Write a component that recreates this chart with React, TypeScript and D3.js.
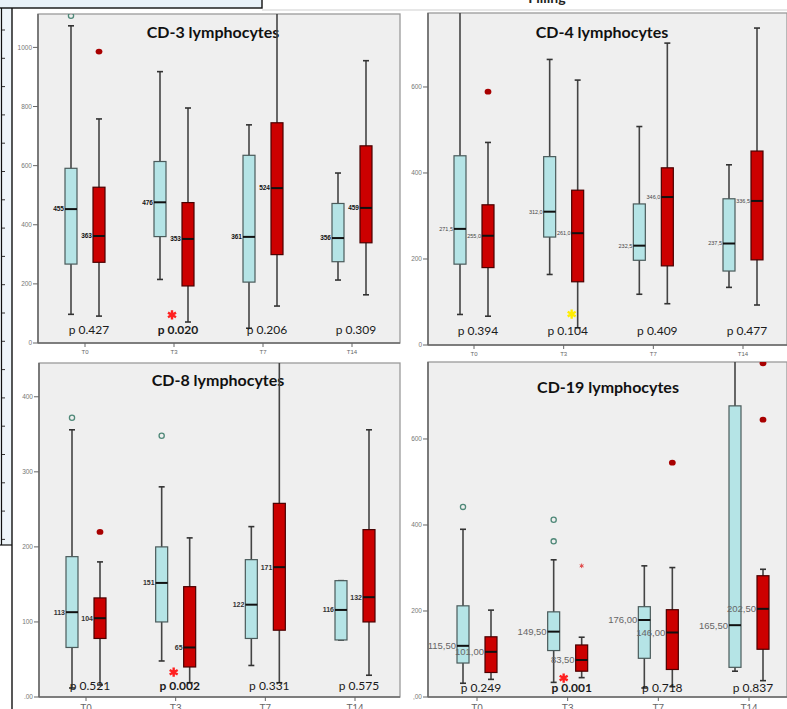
import React from "react";
import * as d3 from "d3";

const timepoints = ["T0", "T3", "T7", "T14"];

// box summaries: [whisker low, q1, median, q3, whisker high], one per time point
const cd3Cyan = [[97, 267, 453, 591, 1073], [215, 360, 476, 614, 918], [50, 206, 359, 635, 738], [213, 275, 355, 472, 575]];
const cd3Red = [[91, 273, 362, 527, 758], [71, 193, 352, 475, 795], [125, 299, 524, 745, 1200], [163, 339, 457, 667, 955]];
const cd3CyanOut = [[0, 1107]];
const cd3RedOut = [[0, 986]];
const cd3CyanLabels = ["455", "476", "361", "356"];
const cd3RedLabels = ["363", "353", "524", "459"];
const cd3P = ["p 0.427", "p 0.020", "p 0.206", "p 0.309"];
const cd3Ticks = [0, 200, 400, 600, 800, 1000];
const cd3TickLabels = ["0", "200", "400", "600", "800", "1000"];

const cd4Cyan = [[71, 188, 270, 440, 800], [164, 251, 310, 438, 664], [118, 197, 231, 328, 508], [134, 172, 236, 340, 419]];
const cd4Red = [[67, 180, 254, 326, 471], [40, 147, 260, 360, 616], [96, 184, 344, 412, 702], [93, 198, 335, 451, 737]];
const cd4CyanOut: number[][] = [];
const cd4RedOut = [[0, 589]];
const cd4CyanLabels = ["271,5", "312,0", "232,5", "237,5"];
const cd4RedLabels = ["255,0", "261,0", "346,0", "336,5"];
const cd4P = ["p 0.394", "p 0.104", "p 0.409", "p 0.477"];
const cd4Ticks = [0, 200, 400, 600];
const cd4TickLabels = ["0", "200", "400", "600"];

const cd8Cyan = [[12, 66, 113, 187, 356], [48, 100, 152, 200, 280], [42, 78, 123, 183, 227], [76, 76, 116, 155, 155]];
const cd8Red = [[16, 78, 105, 132, 180], [19, 40, 66, 147, 212], [19, 89, 173, 258, 470], [29, 100, 133, 223, 356]];
const cd8CyanOut = [[0, 372], [1, 348]];
const cd8RedOut = [[0, 220]];
const cd8CyanLabels = ["113", "151", "122", "116"];
const cd8RedLabels = ["104", "65", "171", "132"];
const cd8P = ["p 0.521", "p 0.002", "p 0.331", "p 0.575"];
const cd8Ticks = [0, 100, 200, 300, 400];
const cd8TickLabels = [".00", "100", "200", "300", "400"];

const cd19Cyan = [[32, 79, 119, 212, 390], [34, 108, 152, 198, 319], [21, 90, 179, 210, 305], [60, 69, 167, 677, 820]];
const cd19Red = [[41, 57, 105, 140, 202], [45, 60, 86, 121, 139], [24, 64, 150, 203, 301], [38, 111, 205, 282, 297]];
const cd19CyanOut = [[0, 442], [1, 412], [1, 362]];
const cd19RedOut = [[2, 545], [3, 645], [3, 776]];
const cd19RedStars = [[1, 305]];
const cd19CyanLabels = ["115,50", "149,50", "176,00", "165,50"];
const cd19RedLabels = ["101,00", "83,50", "146,00", "202,50"];
const cd19P = ["p 0.249", "p 0.001", "p 0.718", "p 0.837"];
const cd19Ticks = [0, 200, 400, 600];
const cd19TickLabels = [",00", "200", "400", "600"];

const W = 787;
const H = 709;
const CYAN = "#b5e4e6";
const RED = "#cc0000";

const panels = [
  {
    id: "cd3", title: "CD-3 lymphocytes", x0: 38, x1: 400, y0: 14, y1: 343, yMax: 1113, cx: [85, 352],
    titleX: 213, titleY: 38, cyan: cd3Cyan, red: cd3Red, cyanOut: cd3CyanOut, redOut: cd3RedOut, redStars: [],
    cyanLabels: cd3CyanLabels, redLabels: cd3RedLabels, p: cd3P, boldP: 1, pY: 334,
    ticks: cd3Ticks, tickLabels: cd3TickLabels, star: { v: 95, dx: -2, color: "#ff2020" },
    label: { size: 6.5, weight: 700, color: "#111" }, xLabelY: 354, xLabelSize: 6,
  },
  {
    id: "cd4", title: "CD-4 lymphocytes", x0: 428, x1: 787, y0: 13, y1: 345, yMax: 772, cx: [474, 743],
    titleX: 602, titleY: 38, cyan: cd4Cyan, red: cd4Red, cyanOut: cd4CyanOut, redOut: cd4RedOut, redStars: [],
    cyanLabels: cd4CyanLabels, redLabels: cd4RedLabels, p: cd4P, boldP: -1, pY: 335,
    ticks: cd4Ticks, tickLabels: cd4TickLabels, star: { v: 72, dx: 8, color: "#ffee00" },
    label: { size: 5.5, weight: 400, color: "#444" }, xLabelY: 356, xLabelSize: 6,
  },
  {
    id: "cd8", title: "CD-8 lymphocytes", x0: 39, x1: 400, y0: 363, y1: 697, yMax: 445, cx: [86, 355],
    titleX: 218, titleY: 386, cyan: cd8Cyan, red: cd8Red, cyanOut: cd8CyanOut, redOut: cd8RedOut, redStars: [],
    cyanLabels: cd8CyanLabels, redLabels: cd8RedLabels, p: cd8P, boldP: 1, pY: 690,
    ticks: cd8Ticks, tickLabels: cd8TickLabels, star: { v: 33, dx: -2, color: "#ff2020" },
    label: { size: 7, weight: 700, color: "#333" }, xLabelY: 712, xLabelSize: 10,
  },
  {
    id: "cd19", title: "CD-19 lymphocytes", x0: 428, x1: 787, y0: 362, y1: 697, yMax: 779, cx: [477, 749],
    titleX: 608, titleY: 393, cyan: cd19Cyan, red: cd19Red, cyanOut: cd19CyanOut, redOut: cd19RedOut, redStars: cd19RedStars,
    cyanLabels: cd19CyanLabels, redLabels: cd19RedLabels, p: cd19P, boldP: 1, pY: 692,
    ticks: cd19Ticks, tickLabels: cd19TickLabels, star: { v: 44, dx: -4, color: "#ff2020" },
    label: { size: 9.5, weight: 400, color: "#666" }, xLabelY: 712, xLabelSize: 10,
  },
];

const asterisk = d3.symbol().type(d3.symbolAsterisk);

function BoxMark({ cx, b, y, fill, stroke, label, lab }: any) {
  const [lo, q1, med, q3, hi] = b;
  const bw = 12;
  return (
    <g>
      <line x1={cx} x2={cx} y1={y(lo)} y2={y(hi)} stroke="#444" strokeWidth={1.6} />
      <line x1={cx - 3} x2={cx + 3} y1={y(lo)} y2={y(lo)} stroke="#333" strokeWidth={1.6} />
      <line x1={cx - 3} x2={cx + 3} y1={y(hi)} y2={y(hi)} stroke="#333" strokeWidth={1.6} />
      <rect x={cx - bw / 2} y={y(q3)} width={bw} height={y(q1) - y(q3)} fill={fill} stroke={stroke} strokeWidth={1.2} />
      <line x1={cx - bw / 2} x2={cx + bw / 2} y1={y(med)} y2={y(med)} stroke="#111" strokeWidth={2} />
      <text x={cx - bw / 2 - 1} y={y(med) + lab.size * 0.35} textAnchor="end" fontSize={lab.size}
        fontWeight={lab.weight} fill={lab.color} fontFamily="Liberation Sans, Arial, sans-serif">{label}</text>
    </g>
  );
}

function Panel({ p }: any) {
  const y = d3.scaleLinear().domain([0, p.yMax]).range([p.y1, p.y0]);
  const x = d3.scalePoint<string>().domain(timepoints).range(p.cx);
  const off = 14;
  return (
    <g>
      <defs>
        <clipPath id={`clip-${p.id}`}>
          <rect x={p.x0} y={p.y0} width={p.x1 - p.x0} height={p.y1 - p.y0} />
        </clipPath>
      </defs>
      <rect x={p.x0} y={p.y0} width={p.x1 - p.x0} height={p.y1 - p.y0} fill="#efefef" stroke="#9a9a9a" strokeWidth={1.3} />
      <text x={p.titleX} y={p.titleY} textAnchor="middle" fontSize={16} fontWeight={700}
        fontFamily="Lato, 'Open Sans', sans-serif" fill="#111">{p.title}</text>
      <g clipPath={`url(#clip-${p.id})`}>
        {timepoints.map((t, i) => (
          <g key={t}>
            <BoxMark cx={x(t)! - off} b={p.cyan[i]} y={y} fill={CYAN} stroke="#4a5a5a" label={p.cyanLabels[i]} lab={p.label} />
            <BoxMark cx={x(t)! + off} b={p.red[i]} y={y} fill={RED} stroke="#4a0000" label={p.redLabels[i]} lab={p.label} />
          </g>
        ))}
        {p.cyanOut.map(([i, v]: number[], k: number) => (
          <circle key={`co${k}`} cx={x(timepoints[i])! - off} cy={y(v)} r={2.6} fill="none" stroke="#4f8878" strokeWidth={1.3} />
        ))}
        {p.redOut.map(([i, v]: number[], k: number) => (
          <ellipse key={`ro${k}`} cx={x(timepoints[i])! + off} cy={y(v)} rx={3.4} ry={2.9} fill="#a80000" />
        ))}
        {p.redStars.map(([i, v]: number[], k: number) => (
          <path key={`rs${k}`} d={asterisk.size(14)()!} transform={`translate(${x(timepoints[i])! + off},${y(v)})`}
            stroke="#e04848" strokeWidth={1} fill="none" />
        ))}
      </g>
      <path d={asterisk.size(60)()!} transform={`translate(${x("T3")! + p.star.dx},${y(p.star.v)})`}
        stroke={p.star.color} strokeWidth={2.4} fill="none" />
      {timepoints.map((t, i) => (
        <text key={`p${t}`} x={x(t)! + 4} y={p.pY} textAnchor="middle" fontSize={12}
          fontWeight={i === p.boldP ? 700 : 400} fill="#1a1a1a" fontFamily="Lato, 'Open Sans', sans-serif">{p.p[i]}</text>
      ))}
      <line x1={p.x0} x2={p.x0} y1={p.y0} y2={p.y1} stroke="#6a6a6a" strokeWidth={1.6} />
      <line x1={p.x0} x2={p.x1} y1={p.y1} y2={p.y1} stroke="#6a6a6a" strokeWidth={1.6} />
      {p.ticks.map((v: number, k: number) => (
        <g key={`t${v}`}>
          <line x1={p.x0 - 5} x2={p.x0} y1={y(v)} y2={y(v)} stroke="#666" strokeWidth={1} />
          <text x={p.x0 - 6} y={y(v) + 2.3} textAnchor="end" fontSize={6.5} fill="#777"
            fontFamily="Liberation Sans, Arial, sans-serif">{p.tickLabels[k]}</text>
        </g>
      ))}
      {timepoints.map((t) => (
        <g key={`x${t}`}>
          <line x1={x(t)} x2={x(t)} y1={p.y1} y2={p.y1 + 4} stroke="#666" strokeWidth={1} />
          <text x={x(t)} y={p.xLabelY} textAnchor="middle" fontSize={p.xLabelSize} fill="#666"
            fontFamily="Liberation Sans, Arial, sans-serif">{t}</text>
        </g>
      ))}
    </g>
  );
}

export default function App() {
  const leftTicks = d3.range(30, 545, 28.3);
  return (
    <svg width={W} height={H} style={{ position: "absolute", left: 0, top: 0, background: "#fff" }}>
      <rect x={0} y={0} width={12} height={545} fill="#eef5fa" />
      <line x1={1.5} x2={1.5} y1={8} y2={545} stroke="#111" strokeWidth={1.2} />
      <line x1={0} x2={12} y1={545} y2={545} stroke="#111" strokeWidth={1.2} />
      {leftTicks.map((t) => (
        <line key={t} x1={2} x2={5} y1={t} y2={t} stroke="#333" strokeWidth={1} />
      ))}
      <rect x={-2} y={-2} width={264} height={10} fill="#e8f1f8" stroke="#111" strokeWidth={1.4} />
      <line x1={262} x2={W} y1={10} y2={10} stroke="#cfcfcf" strokeWidth={1} />
      <line x1={12} x2={12} y1={8} y2={H} stroke="#111" strokeWidth={1.4} />
      <text x={547} y={3} textAnchor="middle" fontSize={14} fontWeight={700} fontFamily="Lato, sans-serif" fill="#222">Filling</text>
      {panels.map((p) => (
        <Panel key={p.id} p={p} />
      ))}
    </svg>
  );
}
